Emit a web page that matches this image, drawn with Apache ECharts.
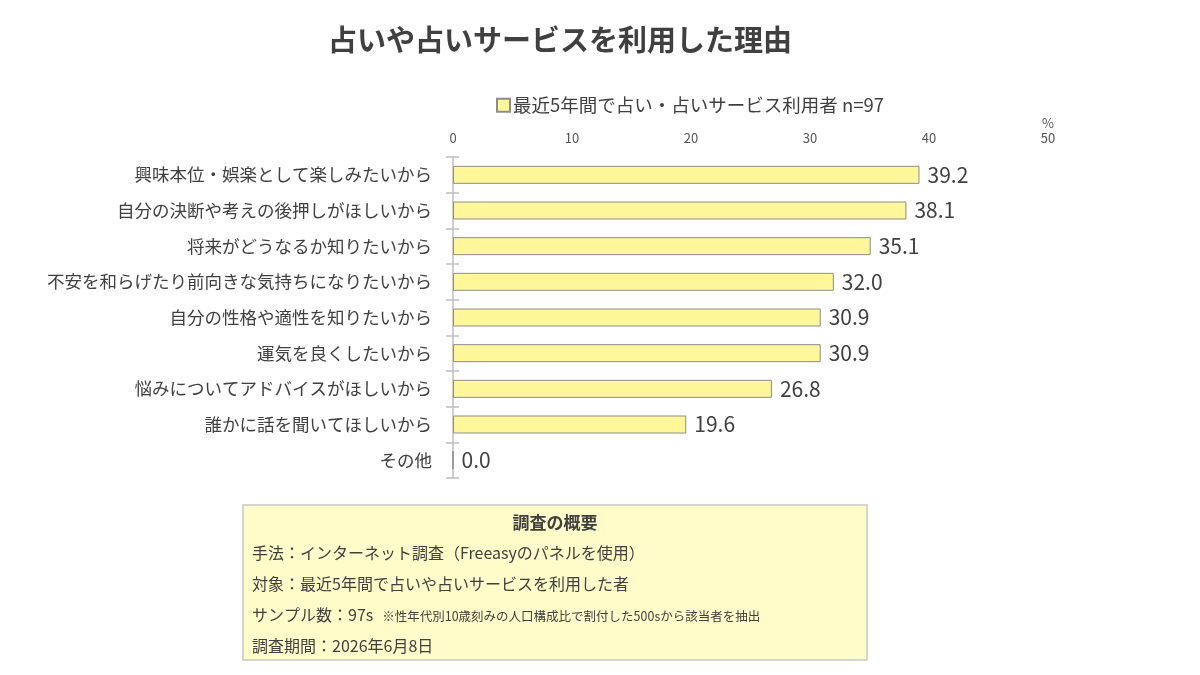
<!DOCTYPE html>
<html lang="ja">

<head>
  <meta charset="UTF-8">
  <title>占いや占いサービスを利用した理由</title>
  <style>
    html, body {
      margin: 0;
      width: 100%;
      height: 100%;
      background: #fff;
    }

    #chart {
      width: 1200px;
      height: 675px;
    }
  </style>
</head>

<body>
  <div id="chart"></div>
  <script src="https://cdn.jsdelivr.net/npm/echarts@6/dist/echarts.min.js"></script>
  <script>
    // データ
    var categories = [
      '興味本位・娯楽として楽しみたいから',
      '自分の決断や考えの後押しがほしいから',
      '将来がどうなるか知りたいから',
      '不安を和らげたり前向きな気持ちになりたいから',
      '自分の性格や適性を知りたいから',
      '運気を良くしたいから',
      '悩みについてアドバイスがほしいから',
      '誰かに話を聞いてほしいから',
      'その他'
    ];
    var values = [39.2, 38.1, 35.1, 32.0, 30.9, 30.9, 26.8, 19.6, 0.0];
    var seriesName = '最近5年間で占い・占いサービス利用者 n=97';
    var xTicks = [0, 10, 20, 30, 40, 50];

    var noteTitle = '調査の概要';
    var noteLines = [
      '手法：インターネット調査（Freeasyのパネルを使用）',
      '対象：最近5年間で占いや占いサービスを利用した者',
      'サンプル数：97s',
      '調査期間：2026年6月8日'
    ];
    // サンプル数の行に付く注記
    var noteSub = '※性年代別10歳刻みの人口構成比で割付した500sから該当者を抽出';

    var font = '"Noto Sans CJK JP", "Noto Sans", sans-serif';
    var myChart = echarts.init(document.getElementById('chart'));

    // 調査の概要ボックス
    var boxLeft = 243, boxTop = 505, boxW = 624, boxH = 155;
    var graphics = [{
      type: 'rect',
      shape: { x: boxLeft, y: boxTop, width: boxW, height: boxH },
      style: { fill: '#fffcc9', stroke: '#c8c8c8', lineWidth: 1.5 }
    }, {
      type: 'text',
      x: boxLeft + boxW / 2,
      y: boxTop + 18,
      style: {
        text: noteTitle, fill: '#404040', font: 'bold 17px ' + font,
        textAlign: 'center', textVerticalAlign: 'middle'
      }
    }, {
      // %
      type: 'text',
      x: 1048,
      y: 123,
      style: {
        text: '%', fill: '#555', font: '13px ' + font,
        textAlign: 'center', textVerticalAlign: 'middle'
      }
    }];
    noteLines.forEach(function (t, i) {
      var isSample = (i === 2);
      graphics.push({
        type: 'text',
        x: boxLeft + 9,
        y: boxTop + 48 + i * 31,
        style: {
          text: isSample ? '{a|' + t + '}{b|' + noteSub + '}' : t,
          fill: '#404040',
          font: '16px ' + font,
          textVerticalAlign: 'middle',
          rich: {
            a: { fontSize: 16, fontFamily: font, fill: '#404040' },
            b: { fontSize: 12.5, fontFamily: font, fill: '#404040', padding: [2, 0, 0, 9] }
          }
        }
      });
    });

    var option = {
      textStyle: { fontFamily: font },
      title: {
        text: '占いや占いサービスを利用した理由',
        left: 555,
        textAlign: 'center',
        top: 20,
        textStyle: { fontSize: 29, fontWeight: 'bold', color: '#404040', fontFamily: font }
      },
      legend: {
        data: [seriesName],
        left: 491,
        top: 91,
        itemWidth: 13,
        itemHeight: 13,
        itemGap: 4,
        icon: 'rect',
        textStyle: { fontSize: 18.5, color: '#404040', padding: [0, 0, 0, -2] }
      },
      grid: { left: 453, right: 152, top: 157, height: 321 },
      xAxis: {
        type: 'value',
        position: 'top',
        min: 0,
        max: 50,
        interval: 10,
        axisLine: { show: false },
        axisTick: { show: false },
        splitLine: { show: false },
        axisLabel: {
          color: '#555', fontSize: 13, margin: 12,
          formatter: function (v) { return xTicks.indexOf(v) >= 0 ? v : ''; }
        }
      },
      yAxis: [{
        type: 'category',
        data: categories,
        inverse: true,
        axisLine: { show: true, lineStyle: { color: '#bfbfbf', width: 1.5 } },
        axisTick: { show: true, length: 7, lineStyle: { color: '#bfbfbf', width: 1.5 } },
        axisLabel: { color: '#404040', fontSize: 17.5, margin: 21 }
      }, {
        type: 'category',
        data: categories,
        inverse: true,
        position: 'left',
        axisLine: { show: false },
        axisTick: { show: true, inside: true, length: 6, lineStyle: { color: '#bfbfbf', width: 1.5 } },
        axisLabel: { show: false }
      }],
      series: [{
        name: seriesName,
        type: 'bar',
        data: values,
        barWidth: 18,
        itemStyle: { color: '#fff799', borderColor: '#8c8c8c', borderWidth: 1 },
        label: {
          show: true,
          position: 'right',
          distance: 8,
          fontSize: 21,
          color: '#404040',
          formatter: function (p) { return p.value.toFixed(1); }
        }
      }],
      graphic: graphics
    };

    myChart.setOption(option);
  </script>
</body>

</html>
